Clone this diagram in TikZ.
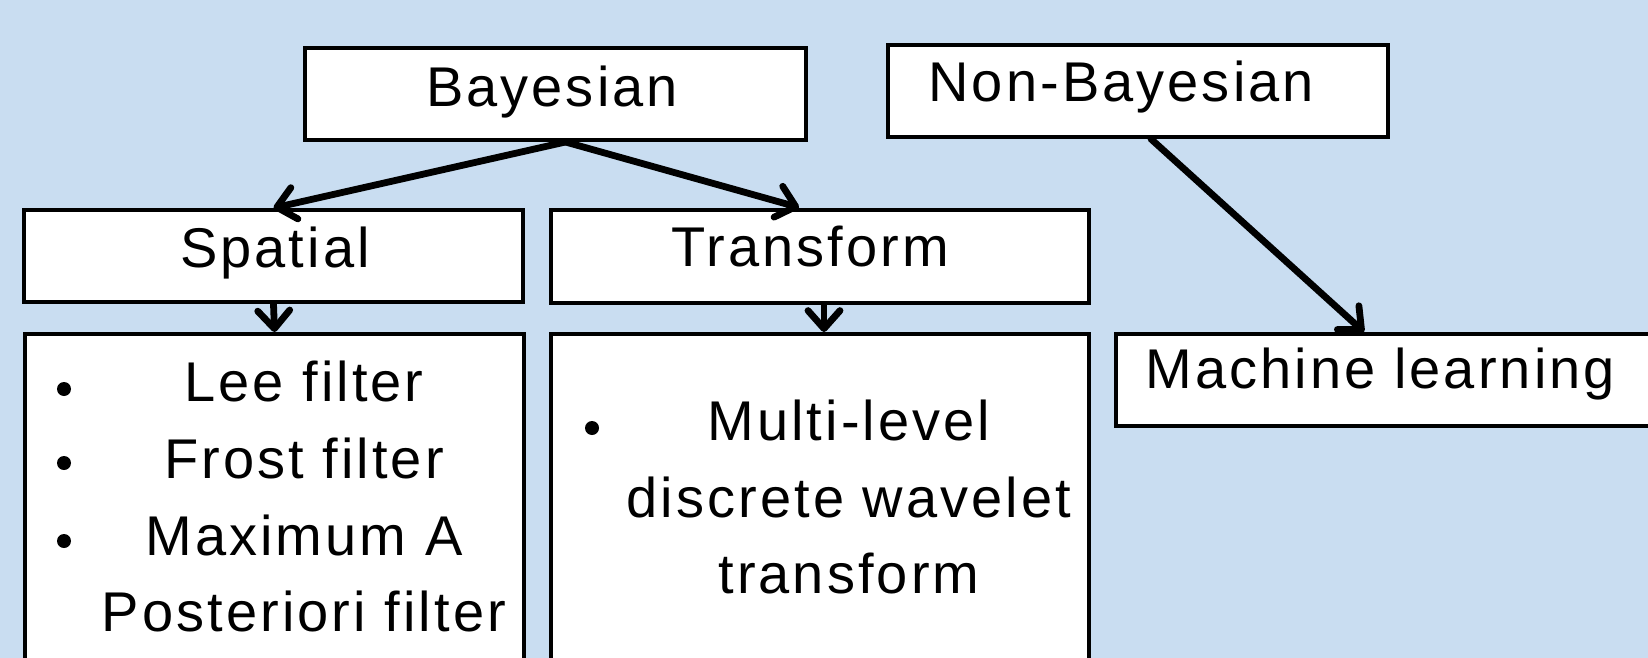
\documentclass[tikz,border=0pt]{standalone}
\usepackage{fontspec}
\setmainfont{Liberation Sans}[LetterSpace=5.5]
\usetikzlibrary{arrows.meta}
\definecolor{bgblue}{RGB}{201,221,241}
\tikzset{
  box/.style={draw=black, fill=white, line width=2pt, inner sep=0pt},
  lbl/.style={inner sep=0pt, anchor=base, font=\fontsize{28}{38}\selectfont},
  lblw/.style={lbl, anchor=base west},
  dot/.style={circle, fill=black, inner sep=0pt, minimum size=7pt},
  link/.style={line width=3.4pt, line cap=round,
    -{Straight Barb[length=9pt,width=16pt,round]}}
}
\begin{document}
\begin{tikzpicture}[x=0.5pt, y=-0.5pt]
  % canvas
  \fill[bgblue] (0,0) rectangle (1648,658);
  \useasboundingbox (0,0) rectangle (1648,658);
  \begin{scope}
    \clip (0,0) rectangle (1648,658);
    % boxes
    \node[box, minimum width=250.5pt, minimum height=46pt] (bay) at (555.5,94) {};
    \node[box, minimum width=250pt, minimum height=46pt] (nonbay) at (1138,91) {};
    \node[box, minimum width=249.5pt, minimum height=46pt] (spat) at (273.5,256) {};
    \node[box, minimum width=269pt, minimum height=46.5pt] (trans) at (820,256) {};
    \node[box, minimum width=249.5pt, minimum height=183pt] (spatlist) at (274.5,517) {};
    \node[box, minimum width=269pt, minimum height=183pt] (translist) at (820,517) {};
    \node[box, minimum width=292pt, minimum height=46pt] (ml) at (1408,380) {};
    % headings
    \node[lbl] (tbay) at (552,106) {Bayesian};
    \node[lblw] (tnonbay) at (928,102) {Non-Bayesian};
    \node[lbl] (tspat) at (275,267) {Spatial};
    \node[lbl] (ttrans) at (810,266) {Transform};
    \node[lblw] (tml) at (1145,388) {Machine learning};
    % spatial filters
    \node[dot] (d1) at (64,389) {};
    \node[dot] (d2) at (64,463) {};
    \node[dot] (d3) at (64,541) {};
    \node[lbl] (s1) at (304,401) {Lee filter};
    \node[lbl] (s2) at (304,478) {Frost filter};
    \node[lbl] (s3) at (304,555) {Maximum A};
    \node[lbl] (s4) at (304,631) {Posteriori filter};
    % transform methods
    \node[dot] (d4) at (592,428) {};
    \node[lbl] (t1) at (849,440) {Multi-level};
    \node[lbl] (t2) at (849,517) {discrete wavelet};
    \node[lbl] (t3) at (849,593) {transform};
    % connectors
    \draw[link] ([xshift=5pt]bay.south) -- (spat.north);
    \draw[link] ([xshift=5pt]bay.south) -- ([xshift=-10.5pt]trans.north);
    \draw[link] (spat.south) -- (spatlist.north);
    \draw[link] ([xshift=2pt]trans.south) -- ([xshift=2pt]translist.north);
    \draw[link] ([xshift=6.5pt]nonbay.south) -- ([xshift=-22pt]ml.north);
  \end{scope}
\end{tikzpicture}
\end{document}
